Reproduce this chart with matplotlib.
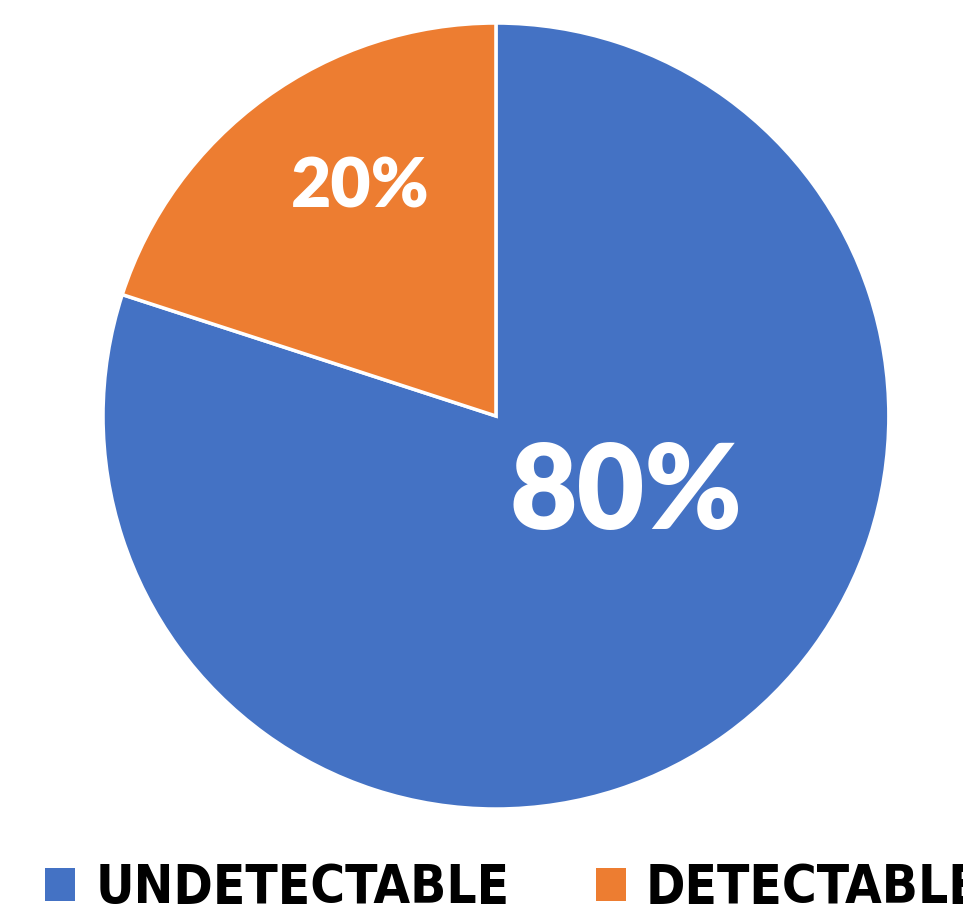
import matplotlib.pyplot as plt
from matplotlib.patches import Patch
from matplotlib import font_manager

labels = ["UNDETECTABLE", "DETECTABLE"]
values = [80, 20]
colors = ["#4472C4", "#ED7D31"]

plt.rcParams["font.family"] = ["Lato", "DejaVu Sans"]

# look for a narrow bold face for the legend (Calibri-like squeeze)
narrow = None
for f in font_manager.fontManager.ttflist:
    fn = f.fname.lower()
    if ("narrow" in fn or "condensed" in fn) and f.weight in (600, 700, "bold") and "oblique" not in fn and "italic" not in fn:
        if narrow is None or "liberation" in fn:
            narrow = f.fname
if narrow:
    legprop = font_manager.FontProperties(fname=narrow, size=38)
else:
    legprop = font_manager.FontProperties(family="Lato", weight="heavy", size=36)

fig = plt.figure(figsize=(9.63, 9.21), dpi=100)
# axes placed so the pie sits where it does in the original
ax = fig.add_axes([0.515 - 0.408, 0.5483 - 0.4267, 0.816, 0.8534])

wedges, texts, pcts = ax.pie(values, colors=colors, startangle=90, counterclock=False,
                             autopct="%d%%", radius=1,
                             wedgeprops=dict(edgecolor="white", linewidth=2.5))
ax.set_xlim(-1, 1)
ax.set_ylim(-1, 1)
ax.set_aspect("auto")
ax.axis("off")

# label spots, like Excel puts them
pcts[0].set_position((0.33, -0.20))
pcts[0].set_fontsize(84)
pcts[1].set_position((-0.346, 0.58))
pcts[1].set_fontsize(50)
for t in pcts:
    t.set_color("white")
    t.set_fontweight("heavy")
    t.set_va("center")
    t.set_ha("center")

handles = [Patch(facecolor=c) for c in colors]
fig.legend(handles, labels, loc="lower left", bbox_to_anchor=(0.047, 0.0075), ncol=2,
           frameon=False, prop=legprop, borderpad=0, borderaxespad=0,
           handlelength=0.57, handleheight=0.57, handletextpad=0.38, columnspacing=1.63)

plt.savefig("out.png", dpi=100)
